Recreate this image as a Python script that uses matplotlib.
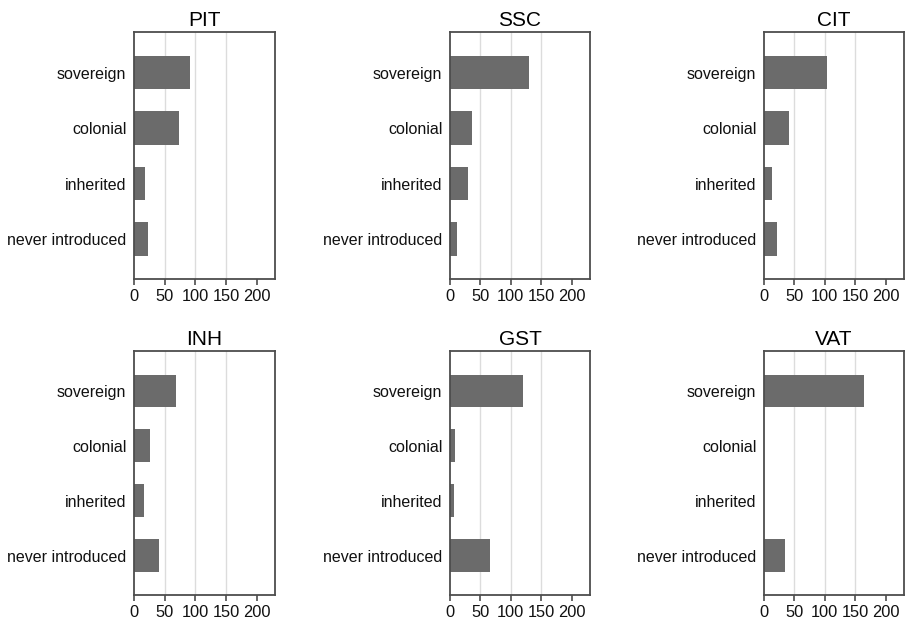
import matplotlib
matplotlib.use("Agg")
import matplotlib.pyplot as plt
import numpy as np

plt.rcParams['font.family'] = ['Liberation Sans', 'DejaVu Sans']

categories = ["sovereign", "colonial", "inherited", "never introduced"]
panels = ["PIT", "SSC", "CIT", "INH", "GST", "VAT"]
pit = [91, 73, 18, 23]
ssc = [130, 36, 29, 12]
cit = [104, 41, 13, 22]
inh = [69, 26, 16, 40]
gst = [120, 9, 6, 66]
vat = [164, 0, 0, 35]
values = [pit, ssc, cit, inh, gst, vat]
xticks = [0, 50, 100, 150, 200]
gridvals = [50, 100, 150]

W, H = 908, 623
fig = plt.figure(figsize=(W / 100, H / 100), dpi=100)
lefts = [134, 450, 764]
widths = [141, 140, 140]
rows = [(32, 279), (351, 595)]

for i, (name, vals) in enumerate(zip(panels, values)):
    r, c = divmod(i, 3)
    top, bot = rows[r]
    ax = fig.add_axes([lefts[c] / W, 1 - bot / H, widths[c] / W, (bot - top) / H])
    y = np.arange(len(categories))
    for g in gridvals:
        ax.axvline(g, color='#dcdcdc', lw=1.0, zorder=0)
    ax.barh(y, vals, height=0.6, color='#6b6b6b', zorder=2)
    ax.set_yticks(y)
    ax.set_yticklabels(categories, fontsize=11.5, color='#111111')
    ax.set_ylim(3.72, -0.73)
    ax.set_xlim(0, 230)
    ax.set_xticks(xticks)
    ax.set_xticklabels([str(t) for t in xticks], fontsize=11.8, color='#111111')
    ax.tick_params(axis='y', length=0, pad=5.5)
    ax.tick_params(axis='x', length=4.3, width=1.2, color='#4d4d4d', pad=3)
    for s in ax.spines.values():
        s.set_color('#4d4d4d')
        s.set_linewidth(1.3)
    ax.set_title(name, fontsize=15, pad=4.5, color='#000000')

fig.savefig("out.png", dpi=100)
